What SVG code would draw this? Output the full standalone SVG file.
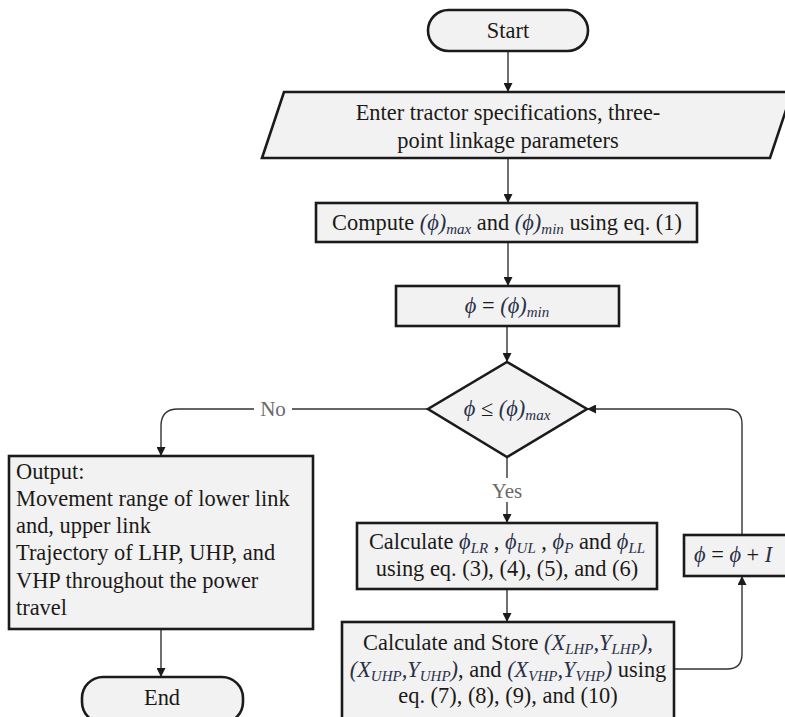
<svg xmlns="http://www.w3.org/2000/svg" width="785" height="717" viewBox="0 0 785 717">
<style>
.bx{fill:#f1f2f1;stroke:#1b1b1b;stroke-width:2.6}
.t{font-family:"Liberation Serif","DejaVu Serif",serif;font-size:22.4px;fill:#1c1a18}
.c{text-anchor:middle}
.m{font-style:italic;fill:#2a3048}
.s{font-size:15px;font-style:italic;fill:#2a3048}
.lbl{font-family:"Liberation Serif","DejaVu Serif",serif;font-size:21px;fill:#6a6a6a;text-anchor:middle}
.cn{fill:none;stroke:#333;stroke-width:1.4}
</style>
<defs>
<marker id="ah" viewBox="0 0 10 10" refX="10" refY="5" markerWidth="9" markerHeight="9" markerUnits="userSpaceOnUse" orient="auto">
<path d="M0,0 L10,5 L0,10 z" fill="#1b1b1b"/>
</marker>
</defs>
<rect width="785" height="717" fill="#ffffff"/>
<g id="connectors">
<path class="cn" d="M508,51 V92" marker-end="url(#ah)"/>
<path class="cn" d="M508,158 V203" marker-end="url(#ah)"/>
<path class="cn" d="M508,242 V286" marker-end="url(#ah)"/>
<path class="cn" d="M507,326 V362" marker-end="url(#ah)"/>
<path class="cn" d="M507,457 V478"/>
<path class="cn" d="M507,502 V523" marker-end="url(#ah)"/>
<path class="cn" d="M428,409 H292"/>
<path class="cn" d="M254,409 H178 Q161,409 161,426 V456" marker-end="url(#ah)"/>
<path class="cn" d="M161,629 V677" marker-end="url(#ah)"/>
<path class="cn" d="M507,589 V622" marker-end="url(#ah)"/>
<path class="cn" d="M674,669 H727 Q742,669 742,654 V576" marker-end="url(#ah)"/>
<path class="cn" d="M742,535 V424 Q742,409 727,409 H587" marker-end="url(#ah)"/>
<text class="lbl" x="273" y="416">No</text>
<text class="lbl" x="507" y="498">Yes</text>
</g>
<g id="start">
<rect class="bx" x="428" y="10" width="160" height="41" rx="20.5"/>
<text class="t c" x="508" y="38">Start</text>
</g>
<g id="input">
<polygon class="bx" points="284,92 792,92 770,158 262,158"/>
<text class="t c" x="508" y="120">Enter tractor specifications, three-</text>
<text class="t c" x="508" y="148">point linkage parameters</text>
</g>
<g id="compute">
<rect class="bx" x="316" y="203" width="381" height="39"/>
<text class="t c" x="507" y="230">Compute <tspan class="m">(ϕ)</tspan><tspan class="s" dy="4">max</tspan><tspan dy="-4"> and </tspan><tspan class="m">(ϕ)</tspan><tspan class="s" dy="4">min</tspan><tspan dy="-4"> using eq. (1)</tspan></text>
</g>
<g id="init">
<rect class="bx" x="396" y="286" width="223" height="40"/>
<text class="t c" x="507" y="313"><tspan class="m">ϕ</tspan> = <tspan class="m">(ϕ)</tspan><tspan class="s" dy="4">min</tspan></text>
</g>
<g id="decision">
<polygon class="bx" points="507,362 587,409 507,457 428,409"/>
<text class="t c" x="507" y="416"><tspan class="m">ϕ</tspan> ≤  <tspan class="m">(ϕ)</tspan><tspan class="s" dy="4">max</tspan></text>
</g>
<g id="output">
<rect class="bx" x="9" y="456" width="304" height="173"/>
<text class="t" x="16" y="479">Output:</text>
<text class="t" x="16" y="506">Movement range of lower link</text>
<text class="t" x="16" y="533">and, upper link</text>
<text class="t" x="16" y="560">Trajectory of LHP, UHP, and</text>
<text class="t" x="16" y="588">VHP throughout the power</text>
<text class="t" x="16" y="615">travel</text>
</g>
<g id="end">
<rect class="bx" x="82" y="677" width="161" height="46" rx="21"/>
<text class="t c" x="162" y="705">End</text>
</g>
<g id="calc1">
<rect class="bx" x="357" y="523" width="300" height="66"/>
<text class="t c" x="507" y="549">Calculate <tspan class="m">ϕ</tspan><tspan class="s" dy="4">LR</tspan><tspan dy="-4"> , </tspan><tspan class="m">ϕ</tspan><tspan class="s" dy="4">UL</tspan><tspan dy="-4"> , </tspan><tspan class="m">ϕ</tspan><tspan class="s" dy="4">P</tspan><tspan dy="-4"> and </tspan><tspan class="m">ϕ</tspan><tspan class="s" dy="4">LL</tspan></text>
<text class="t c" x="507" y="576">using eq. (3), (4), (5), and (6)</text>
</g>
<g id="calc2">
<rect class="bx" x="342" y="622" width="332" height="100"/>
<text class="t c" x="508" y="650">Calculate and Store <tspan class="m">(X</tspan><tspan class="s" dy="4">LHP</tspan><tspan class="m" dy="-4">,Y</tspan><tspan class="s" dy="4">LHP</tspan><tspan class="m" dy="-4">),</tspan></text>
<text class="t c" x="508" y="677"><tspan class="m">(X</tspan><tspan class="s" dy="4">UHP</tspan><tspan class="m" dy="-4">,Y</tspan><tspan class="s" dy="4">UHP</tspan><tspan class="m" dy="-4">)</tspan>, and <tspan class="m">(X</tspan><tspan class="s" dy="4">VHP</tspan><tspan class="m" dy="-4">,Y</tspan><tspan class="s" dy="4">VHP</tspan><tspan class="m" dy="-4">)</tspan> using</text>
<text class="t c" x="508" y="703">eq. (7), (8), (9), and (10)</text>
</g>
<g id="increment">
<rect class="bx" x="684" y="535" width="110" height="41"/>
<text class="t" x="694" y="562"><tspan class="m">ϕ</tspan> = <tspan class="m">ϕ</tspan> + <tspan class="m">I</tspan></text>
</g>
</svg>
